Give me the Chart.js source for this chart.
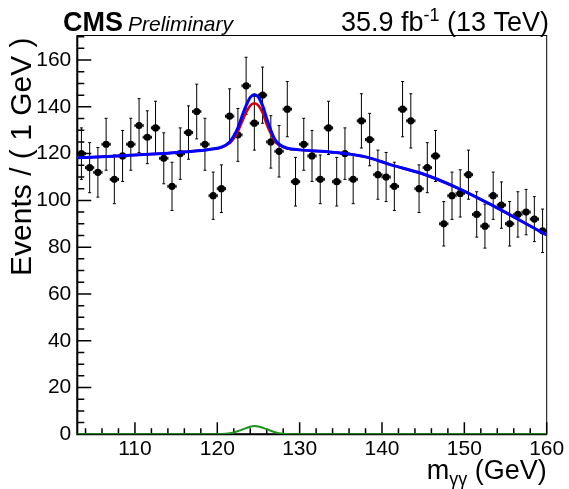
<!DOCTYPE html>
<html><head><meta charset="utf-8">
<script src="https://cdn.jsdelivr.net/npm/chart.js@4/dist/chart.umd.min.js"></script>
<style>html,body{margin:0;padding:0;background:#fff;}#wrap{width:569px;height:489px;}</style>
</head><body><div id="wrap"><canvas id="c" width="569" height="489"></canvas></div>
<script>
// ---- data ----
const massBins = [103.5,104.5,105.5,106.5,107.5,108.5,109.5,110.5,111.5,112.5,113.5,114.5,115.5,116.5,117.5,118.5,119.5,120.5,121.5,122.5,123.5,124.5,125.5,126.5,127.5,128.5,129.5,130.5,131.5,132.5,133.5,134.5,135.5,136.5,137.5,138.5,139.5,140.5,141.5,142.5,143.5,144.5,145.5,146.5,147.5,148.5,149.5,150.5,151.5,152.5,153.5,154.5,155.5,156.5,157.5,158.5,159.5];
const events = [120,114,112,124,109,119,124,132,127,131,118,106,120,129,138,124,102,105,136,128,149,133,145,125,121,139,108,124,119,109,131,108,120,109,134,126,111,110,106,139,134,105,114,119,90,102,103,111,94,89,102,98,90,94,95,92,87];
const eventErr = [11.0,10.7,10.6,11.1,10.4,10.9,11.1,11.5,11.3,11.4,10.9,10.3,11.0,11.4,11.7,11.1,10.1,10.2,11.7,11.3,12.2,11.5,12.0,11.2,11.0,11.8,10.4,11.1,10.9,10.4,11.4,10.4,11.0,10.4,11.6,11.2,10.5,10.5,10.3,11.8,11.6,10.2,10.7,10.9,9.5,10.1,10.1,10.5,9.7,9.4,10.1,9.9,9.5,9.7,9.7,9.6,9.3];

const blueX = [103,106,110,114,117,119,120.5,121.5,122,122.5,123,123.5,124,124.5,125,125.5,126,126.5,127,127.5,128.5,130,134,138,141,145,149,153,157,160];
const blueY = [118.2,118.7,119.4,120.2,121.0,121.8,122.8,125.0,127.5,131.0,136.0,140.5,144.0,145.3,144.0,140.5,135.0,130.0,126.0,124.0,122.3,121.6,120.6,118.6,115.3,111.3,105.6,98.6,91.0,85.2];
const redX = [103,106,110,114,117,119,120.5,121.5,122,122.5,123,123.5,124,124.5,125,125.5,126,126.5,127,127.5,128.5,130,134,138,141,145,149,153,157,160];
const redY = [118.2,118.7,119.4,120.2,121.0,121.8,122.6,124.5,126.5,129.5,133.5,137.5,140.5,141.5,140.5,137.5,132.5,128.5,125.3,123.6,122.2,121.6,120.6,118.6,115.3,111.3,105.6,98.6,91.0,85.2];
const greenX = [103,120,121,122,123,124,124.5,125,126,127,128,129,160];
const greenY = [0,0,0.2,0.8,2.0,3.2,3.5,3.3,2.2,0.9,0.2,0,0];

const xTickVals = [110,120,130,140,150,160];
const yTickVals = [0,20,40,60,80,100,120,140,160];
const xRange = [103,160];
const yRange = [0,170.5];

const FONT = '"Liberation Sans", Arial, Helvetica, sans-serif';

const rootPlugin = {
  id: 'rootStyle',
  beforeDatasetsDraw(chart) {
    const {ctx, chartArea: a, scales: {x, y}} = chart;
    ctx.save();
    ctx.strokeStyle = '#000';
    // frame
    ctx.lineWidth = 1;
    ctx.strokeRect(a.left, a.top, a.right - a.left, a.bottom - a.top);
    ctx.lineWidth = 2;
    ctx.beginPath();
    ctx.moveTo(a.left, a.top); ctx.lineTo(a.left, a.bottom); ctx.lineTo(a.right, a.bottom);
    ctx.stroke();
    // ticks (inward)
    ctx.lineWidth = 1.5;
    ctx.beginPath();
    for (let v = 0; v <= yRange[1]; v += 5) {
      const py = y.getPixelForValue(v);
      const len = (v % 20 === 0) ? 14 : 7;
      ctx.moveTo(a.left, py); ctx.lineTo(a.left + len, py);
    }
    for (let v = 104; v <= xRange[1]; v += 2) {
      const px = x.getPixelForValue(v);
      const len = (v % 10 === 0) ? 12 : 6;
      ctx.moveTo(px, a.bottom); ctx.lineTo(px, a.bottom - len);
    }
    ctx.stroke();
    // error bars
    ctx.beginPath(); ctx.rect(a.left, a.top, a.right - a.left, a.bottom - a.top); ctx.clip();
    ctx.lineWidth = 1;
    for (let i = 0; i < massBins.length; i++) {
      const px = x.getPixelForValue(massBins[i]);
      const py = y.getPixelForValue(events[i]);
      const t = y.getPixelForValue(events[i] + eventErr[i]);
      const b = y.getPixelForValue(events[i] - eventErr[i]);
      const l = x.getPixelForValue(massBins[i] - 0.5);
      const r = x.getPixelForValue(massBins[i] + 0.5);
      ctx.beginPath();
      ctx.moveTo(px, t); ctx.lineTo(px, b);
      ctx.moveTo(l, py); ctx.lineTo(r, py);
      ctx.moveTo(px - 1.5, t); ctx.lineTo(px + 1.5, t);
      ctx.moveTo(px - 1.5, b); ctx.lineTo(px + 1.5, b);
      ctx.moveTo(l, py - 1.5); ctx.lineTo(l, py + 1.5);
      ctx.moveTo(r, py - 1.5); ctx.lineTo(r, py + 1.5);
      ctx.stroke();
    }
    ctx.restore();
  },
  afterDraw(chart) {
    const {ctx, chartArea: a} = chart;
    ctx.save();
    ctx.fillStyle = '#000';
    ctx.textBaseline = 'alphabetic';
    ctx.textAlign = 'left';
    // header
    ctx.font = 'bold 27px ' + FONT;
    ctx.fillText('CMS', 63, 31);
    const cmsW = ctx.measureText('CMS').width;
    ctx.font = 'italic 21px ' + FONT;
    ctx.fillText('Preliminary', 63 + cmsW + 5, 31);
    // lumi text right aligned
    ctx.font = '27px ' + FONT;
    const p1 = '35.9 fb', p3 = ' (13 TeV)';
    const w1 = ctx.measureText(p1).width, w3 = ctx.measureText(p3).width;
    ctx.font = '18px ' + FONT;
    const w2 = ctx.measureText('-1').width;
    let sx = 549 - (w1 + w2 + w3);
    ctx.font = '27px ' + FONT;
    ctx.fillText(p1, sx, 31);
    ctx.font = '18px ' + FONT;
    ctx.fillText('-1', sx + w1, 21);
    ctx.font = '27px ' + FONT;
    ctx.fillText(p3, sx + w1 + w2, 31);
    // x title
    ctx.font = '27px ' + FONT;
    const t3 = ' (GeV)';
    const tw3 = ctx.measureText(t3).width, tw1 = ctx.measureText('m').width;
    ctx.font = '18px ' + FONT;
    const tw2 = ctx.measureText('\u03B3\u03B3').width;
    let tx = a.right - (tw1 + tw2 + tw3);
    ctx.font = '27px ' + FONT;
    ctx.fillText('m', tx, 479);
    ctx.font = '18px ' + FONT;
    ctx.fillText('\u03B3\u03B3', tx + tw1, 485);
    ctx.font = '27px ' + FONT;
    ctx.fillText(t3, tx + tw1 + tw2, 479);
    // y title
    ctx.translate(31, a.top + 2);
    ctx.rotate(-Math.PI / 2);
    ctx.textAlign = 'right';
    ctx.font = '30px ' + FONT;
    ctx.fillText('Events / ( 1 GeV )', 0, 0);
    ctx.restore();
  }
};

const tickFont = {family: FONT, size: 21, lineHeight: 1};

new Chart(document.getElementById('c'), {
  type: 'scatter',
  data: {
    datasets: [
      {label: 'data', data: massBins.map((m, i) => ({x: m, y: events[i]})), pointRadius: 3.6, pointHoverRadius: 3.6,
       backgroundColor: '#000', borderColor: '#000', borderWidth: 0, showLine: false, order: 3},
      {label: 'green', data: greenX.map((m, i) => ({x: m, y: greenY[i]})), showLine: true, pointRadius: 0,
       borderColor: '#1d941d', borderWidth: 2, cubicInterpolationMode: 'monotone', order: 2},
      {label: 'red', data: redX.map((m, i) => ({x: m, y: redY[i]})), showLine: true, pointRadius: 0,
       borderColor: '#d40000', borderWidth: 2.5, cubicInterpolationMode: 'monotone', order: 1},
      {label: 'blue', data: blueX.map((m, i) => ({x: m, y: blueY[i]})), showLine: true, pointRadius: 0,
       borderColor: '#0000ff', borderWidth: 3, cubicInterpolationMode: 'monotone', order: 0}
    ]
  },
  options: {
    responsive: false,
    animation: false,
    events: [],
    layout: {padding: {left: 0, top: 35.5, right: 22.3, bottom: 0}},
    plugins: {legend: {display: false}, tooltip: {enabled: false}},
    scales: {
      x: {
        type: 'linear', min: xRange[0], max: xRange[1],
        afterBuildTicks: s => { s.ticks = xTickVals.map(v => ({value: v})); },
        afterFit: s => { s.height = 54.7; },
        grid: {display: false, drawTicks: false}, border: {display: false},
        ticks: {font: tickFont, color: '#000', padding: 4, maxRotation: 0, autoSkip: false, callback: v => String(v)}
      },
      y: {
        type: 'linear', min: yRange[0], max: yRange[1],
        afterBuildTicks: s => { s.ticks = yTickVals.map(v => ({value: v})); },
        afterFit: s => { s.width = 77.3; },
        grid: {display: false, drawTicks: false}, border: {display: false},
        ticks: {font: tickFont, color: '#000', padding: 6, autoSkip: false, callback: v => String(v)}
      }
    }
  },
  plugins: [rootPlugin]
});
</script>
</body></html>
